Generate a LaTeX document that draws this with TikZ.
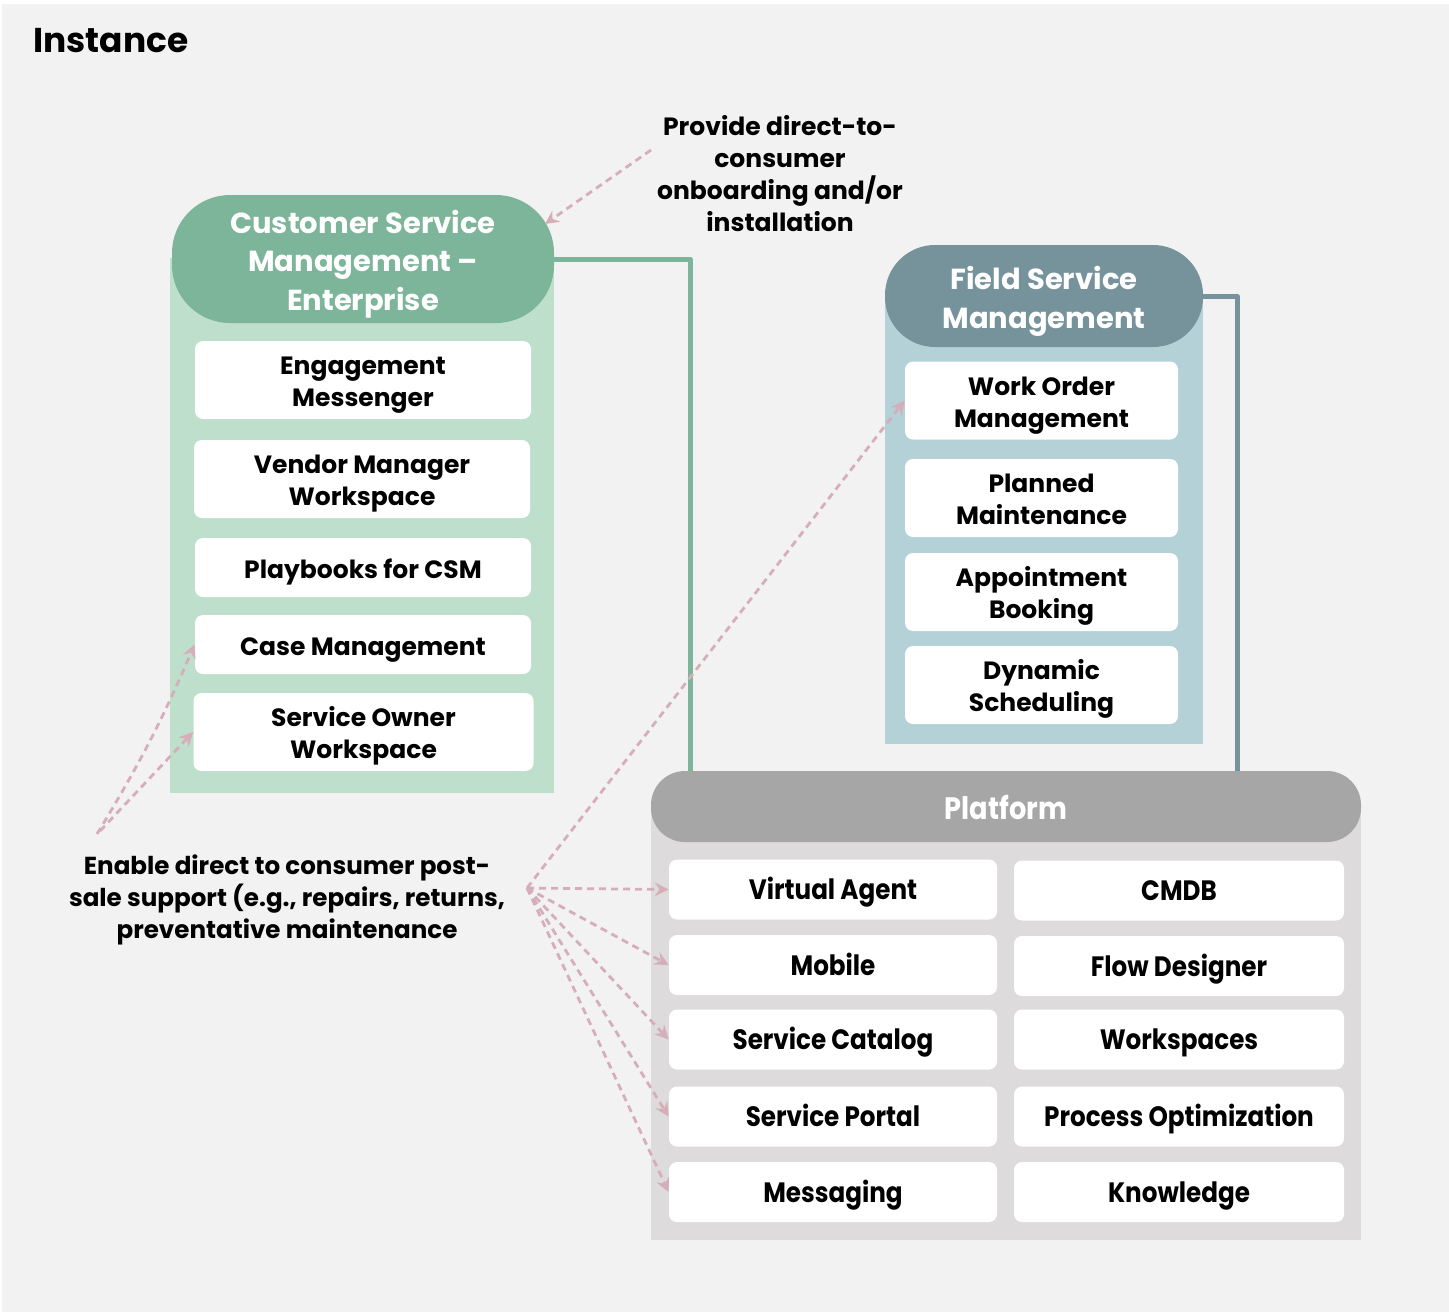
\documentclass[tikz,border=0pt]{standalone}
\usepackage{fontspec}
\setmainfont{Poppins}
\newfontfamily\narrowfont{Poppins}[FakeStretch=0.88]
\usetikzlibrary{arrows.meta}

\definecolor{pagebg}{HTML}{F2F2F2}
\definecolor{csmdark}{HTML}{7DB59A}
\definecolor{csmlight}{HTML}{BEDFCB}
\definecolor{fsmdark}{HTML}{76939C}
\definecolor{fsmlight}{HTML}{B4D1D8}
\definecolor{platdark}{HTML}{A6A6A6}
\definecolor{platlight}{HTML}{DDDBDB}
\definecolor{notepink}{HTML}{D6AEBA}

% centred stack of lines whose capitals sit on the middle of the box
\newcommand{\stacklines}[2]{\raisebox{#1}[0pt][0pt]{\begin{tabular}{@{}c@{}}#2\end{tabular}}}
\newcommand{\cardtext}[1]{\stacklines{-5.2pt}{#1}}
\newcommand{\platcardtext}[1]{\stacklines{-5.6pt}{#1}}
\newcommand{\headtext}[1]{\stacklines{-6.2pt}{#1}}
\newcommand{\platheadtext}[1]{\stacklines{-6.4pt}{#1}}

\tikzset{
  itembox/.style={fill=white, rounded corners=4pt, inner sep=0pt,
    font=\bfseries\fontsize{12.5}{16}\selectfont},
  csmitem/.style={itembox, minimum width=168pt, minimum height=39pt},
  fsmitem/.style={itembox, minimum width=136.5pt, minimum height=39pt},
  platitem/.style={itembox, minimum height=30pt,
    font=\narrowfont\bfseries\fontsize{14}{16}\selectfont},
  headpill/.style={text=white, inner sep=0pt,
    font=\bfseries\fontsize{14.5}{19.25}\selectfont},
  notetext/.style={align=center, inner sep=0pt,
    font=\bfseries\fontsize{12.5}{16}\selectfont},
  notearrow/.style={draw=notepink, line width=1.4pt, dash pattern=on 3.5pt off 2.5pt,
    -{Stealth[length=7pt, width=7pt, inset=2.5pt, fill=notepink, line width=0pt]}},
  linkline/.style={line width=2.5pt, line join=round}
}

\begin{document}
\begin{tikzpicture}[x=0.5pt, y=-0.5pt]
% page
\fill[white] (0,0) rectangle (1449,1312);
\fill[pagebg] (2,4) rectangle (1449,1312);
\useasboundingbox (0,0) rectangle (1449,1312);

\node[anchor=base west, inner sep=0pt, font=\bfseries\fontsize{17.2}{21}\selectfont] (title) at (33,52) {Instance};

% ---------- Customer Service Management ----------
\fill[csmlight] (170,258) rectangle (554,793);
\node[headpill, fill=csmdark, rounded corners=29pt, minimum width=191pt, minimum height=64pt] (csmhead) at (363,259)
  {\headtext{Customer Service\\Management --\\Enterprise}};
\node[csmitem] (em) at (363,380) {\cardtext{Engagement\\Messenger}};
\node[csmitem] (vm) at (362,479) {\cardtext{Vendor Manager\\Workspace}};
\node[csmitem, minimum height=29.5pt] (pb) at (363,567.5) {\cardtext{Playbooks for CSM}};
\node[csmitem, minimum height=29.5pt] (cm) at (363,644.5) {\cardtext{Case Management}};
\node[csmitem, minimum width=170pt] (so) at (363.5,732) {\cardtext{Service Owner\\Workspace}};

% ---------- Field Service Management ----------
\fill[fsmlight] (885,296) rectangle (1203,744);
\node[headpill, fill=fsmdark, rounded corners=25pt, minimum width=159pt, minimum height=51pt] (fsmhead) at (1044,296)
  {\headtext{Field Service\\Management}};
\node[fsmitem] (wo) at (1041.5,400.5) {\cardtext{Work Order\\Management}};
\node[fsmitem] (pm) at (1041.5,498) {\cardtext{Planned\\Maintenance}};
\node[fsmitem] (ab) at (1041.5,592) {\cardtext{Appointment\\Booking}};
\node[fsmitem] (ds) at (1041.5,685) {\cardtext{Dynamic\\Scheduling}};

% ---------- Platform ----------
\fill[platlight] (651,806) rectangle (1361,1240);
\node[headpill, fill=platdark, rounded corners=17pt, minimum width=355pt, minimum height=35.5pt,
  font=\narrowfont\bfseries\fontsize{15.5}{19}\selectfont] (plat) at (1006,806.5) {\platheadtext{Platform}};
\node[platitem, minimum width=164pt] (va) at (833,889.5) {\platcardtext{Virtual Agent}};
\node[platitem, minimum width=164pt] (mo) at (833,965) {\platcardtext{Mobile}};
\node[platitem, minimum width=164pt] (sc) at (833,1039.5) {\platcardtext{Service Catalog}};
\node[platitem, minimum width=164pt] (sp) at (833,1116.5) {\platcardtext{Service Portal}};
\node[platitem, minimum width=164pt] (ms) at (833,1192) {\platcardtext{Messaging}};
\node[platitem, minimum width=165pt] (cd) at (1179,890.5) {\platcardtext{CMDB}};
\node[platitem, minimum width=165pt] (fd) at (1179,966) {\platcardtext{Flow Designer}};
\node[platitem, minimum width=165pt] (ws) at (1179,1039.5) {\platcardtext{Workspaces}};
\node[platitem, minimum width=165pt] (po) at (1179,1116.5) {\platcardtext{Process Optimization}};
\node[platitem, minimum width=165pt] (kn) at (1179,1192) {\platcardtext{Knowledge}};

% ---------- links to the platform ----------
\coordinate (csmjoint) at (690,259);
\draw[linkline, csmdark] (csmhead.east) -- (csmjoint) -- (csmjoint |- plat.north);
\coordinate (fsmjoint) at (1237,296);
\draw[linkline, fsmdark] (fsmhead.east) -- (fsmjoint) -- (fsmjoint |- plat.north);

% ---------- notes ----------
\node[notetext] (provide) at (780,174) {Provide direct-to-\\consumer\\onboarding and/or\\installation};
\node[notetext, font=\bfseries\fontsize{12.3}{16}\selectfont] (enable) at (287,900) {Enable direct to consumer post-\\sale support (e.g., repairs, returns,\\preventative maintenance};

\coordinate (provfrom) at (651,150);
\coordinate (csmtip) at (545,224);
\draw[notearrow] (provfrom) -- (csmtip);

\coordinate (enleft1) at (97,834);
\coordinate (enleft2) at (100,831);
\draw[notearrow] (enleft1) to[bend right=4] (cm.west);
\draw[notearrow] (enleft2) -- (so.west);

\coordinate (fan) at (527,888);
\draw[notearrow] (fan) -- (va.west);
\draw[notearrow] (fan) -- (mo.west);
\draw[notearrow] (fan) -- (sc.west);
\draw[notearrow] (fan) -- (sp.west);
\draw[notearrow] (fan) -- (ms.west);
\draw[notearrow] (fan) -- (wo.west);
\end{tikzpicture}
\end{document}
